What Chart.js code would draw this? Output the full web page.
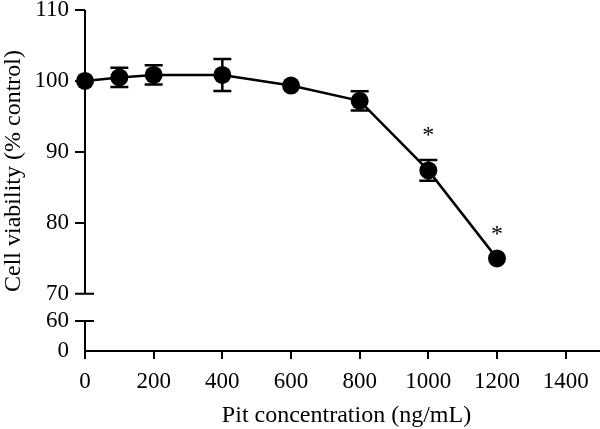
<!DOCTYPE html>
<html><head><meta charset="utf-8">
<script src="https://cdn.jsdelivr.net/npm/chart.js@4/dist/chart.umd.min.js"></script>
<style>html,body{margin:0;padding:0;background:#fff}#wrap{width:600px;height:429px;position:relative}</style>
</head><body><div id="wrap"><canvas id="c"></canvas></div>
<script>
// ---- data ----
const concentrations = [0, 100, 200, 400, 600, 800, 1000, 1200];
const viability      = [100, 100.5, 100.85, 100.85, 99.35, 97.2, 87.4, 75.0];
const viabilityErr   = [0, 1.35, 1.35, 2.25, 0, 1.35, 1.45, 0];
const significance   = ['', '', '', '', '', '', '*', '*'];
const xTickValues = [0, 200, 400, 600, 800, 1000, 1200, 1400];
const yTickValues = [0, 60, 70, 80, 90, 100, 110];
const xTitle = 'Pit concentration (ng/mL)';
const yTitle = 'Cell viability (% control)';

// broken y axis: 70..110 linear, 0..60 compressed below the break
function toAxis(v) {
  if (v >= 70) return v;
  if (v >= 60) return 66.19 + (v - 60) * (3.81 / 10);
  return 61.95 + v * (4.24 / 60);
}

const FONT = '"Liberation Serif", "Times New Roman", serif';

const axisPlugin = {
  id: 'brokenAxis',
  afterDatasetsDraw(chart) {
    const ctx = chart.ctx, y = chart.scales.y, x = chart.scales.x;
    const ax = chart.chartArea.left;
    ctx.save();
    ctx.strokeStyle = '#000';
    ctx.lineWidth = 2;
    ctx.lineCap = 'butt';
    ctx.beginPath();
    ctx.moveTo(ax, y.getPixelForValue(toAxis(110)));
    ctx.lineTo(ax, y.getPixelForValue(toAxis(70)));
    ctx.moveTo(ax, y.getPixelForValue(toAxis(60)));
    ctx.lineTo(ax, y.getPixelForValue(toAxis(0)) + 1);
    yTickValues.forEach(v => {
      if (v === 0) return;
      const py = y.getPixelForValue(toAxis(v));
      const right = (v === 70 || v === 60) ? ax + 9 : ax;
      ctx.moveTo(ax - 10, py);
      ctx.lineTo(right, py);
    });
    ctx.stroke();

    // error bars
    ctx.lineWidth = 2.5;
    ctx.beginPath();
    concentrations.forEach((c, i) => {
      const e = viabilityErr[i];
      if (!e) return;
      const px = x.getPixelForValue(c);
      const top = y.getPixelForValue(viability[i] + e);
      const bot = y.getPixelForValue(viability[i] - e);
      ctx.moveTo(px, top); ctx.lineTo(px, bot);
      ctx.moveTo(px - 9, top); ctx.lineTo(px + 9, top);
      ctx.moveTo(px - 9, bot); ctx.lineTo(px + 9, bot);
    });
    ctx.stroke();

    // significance marks
    ctx.fillStyle = '#000';
    ctx.font = '24px ' + FONT;
    ctx.textAlign = 'center';
    ctx.textBaseline = 'middle';
    concentrations.forEach((c, i) => {
      if (!significance[i]) return;
      const px = x.getPixelForValue(c);
      const py = y.getPixelForValue(viability[i] + viabilityErr[i]) - 24;
      ctx.fillText(significance[i], px, py);
    });

    // axis titles
    ctx.font = '24px ' + FONT;
    ctx.textBaseline = 'alphabetic';
    ctx.fillText(xTitle, (chart.chartArea.left + chart.chartArea.right) / 2 + 4, 422);
    ctx.translate(20, 171);
    ctx.rotate(-Math.PI / 2);
    ctx.fillText(yTitle, 0, 0);
    ctx.restore();
  }
};

new Chart(document.getElementById('c'), {
  type: 'line',
  data: {
    datasets: [{
      data: concentrations.map((c, i) => ({ x: c, y: viability[i] })),
      borderColor: '#000',
      backgroundColor: '#000',
      borderWidth: 2.5,
      pointRadius: 9,
      pointHoverRadius: 9,
      pointBackgroundColor: '#000',
      pointBorderColor: '#000',
      pointBorderWidth: 0,
      tension: 0,
      clip: false
    }]
  },
  options: {
    responsive: true,
    maintainAspectRatio: false,
    animation: false,
    events: [],
    layout: { padding: { top: 10, right: 0, left: 0, bottom: 0 }, autoPadding: false },
    plugins: { legend: { display: false }, tooltip: { enabled: false } },
    scales: {
      x: {
        type: 'linear',
        min: 0, max: 1500,
        afterBuildTicks: s => { s.ticks = xTickValues.map(v => ({ value: v })); },
        afterFit: s => { s.height = 78; s.paddingLeft = 0; s.paddingRight = 0; },
        border: { display: true, color: '#000', width: 2 },
        grid: { display: true, drawOnChartArea: false, drawTicks: true, tickLength: 8, color: '#000', lineWidth: 2 },
        ticks: { color: '#000', font: { family: FONT, size: 23 }, padding: 9, maxRotation: 0,
                 callback: v => String(v) },
        title: { display: false }
      },
      y: {
        type: 'linear',
        min: toAxis(0), max: 110,
        afterBuildTicks: s => { s.ticks = yTickValues.map(v => ({ value: toAxis(v) })); },
        afterFit: s => { s.width = 85; s.paddingTop = 0; s.paddingBottom = 0; },
        border: { display: false },
        grid: { display: false, drawTicks: false },
        ticks: { color: '#000', font: { family: FONT, size: 23 }, padding: 16,
                 callback: (val, i) => String(yTickValues[i]) },
        title: { display: false }
      }
    }
  },
  plugins: [axisPlugin]
});
</script></body></html>
